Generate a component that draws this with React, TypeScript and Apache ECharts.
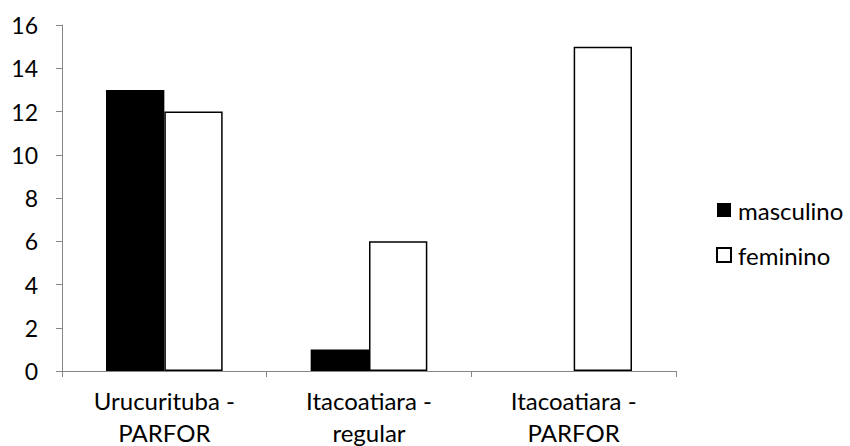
import React, { useEffect, useRef } from "react";
import * as echarts from "echarts";

const categories = ["Urucurituba -\nPARFOR", "Itacoatiara -\nregular", "Itacoatiara -\nPARFOR"];
const masculino = [13, 1, 0];
const feminino = [12, 6, 15];
const seriesNames = ["masculino", "feminino"];

const FONT = "Lato, 'Open Sans', sans-serif";

export default function App() {
  const ref = useRef<HTMLDivElement>(null);
  useEffect(() => {
    const chart = echarts.init(ref.current!, null, { renderer: "svg" });
    chart.setOption({
      animation: false,
      textStyle: { fontFamily: FONT },
      grid: { left: 62, right: 174, top: 25, bottom: 75, outerBoundsMode: "none", containLabel: false },
      legend: {
        orient: "vertical",
        left: 716,
        top: 198,
        padding: 0,
        itemWidth: 14,
        itemHeight: 14,
        itemGap: 21,
        icon: "rect",
        textStyle: { fontSize: 24, color: "#000", fontFamily: FONT, padding: [0, 0, 0, 2] },
        data: seriesNames,
      },
      xAxis: {
        type: "category",
        data: categories,
        axisLine: { lineStyle: { color: "#868686", width: 1 } },
        axisTick: { show: true, length: 6, lineStyle: { color: "#868686" }, alignWithLabel: false },
        axisLabel: { fontSize: 24, color: "#000", lineHeight: 32, margin: 13, fontFamily: FONT },
      },
      yAxis: {
        type: "value",
        min: 0,
        max: 16,
        interval: 2,
        axisLine: { show: true, lineStyle: { color: "#868686", width: 1 } },
        axisTick: { show: true, length: 6, lineStyle: { color: "#868686" } },
        splitLine: { show: false },
        axisLabel: { fontSize: 23, color: "#000", margin: 24, fontFamily: FONT },
      },
      series: [
        {
          name: seriesNames[0],
          type: "bar",
          data: masculino,
          barGap: "0%",
          barCategoryGap: "43%",
          itemStyle: { color: "#000", borderWidth: 0 },
        },
        {
          name: seriesNames[1],
          type: "bar",
          data: feminino,
          barGap: "0%",
          barCategoryGap: "43%",
          itemStyle: { color: "#fff", borderColor: "#000", borderWidth: 1.5 },
        },
      ],
    });
    return () => chart.dispose();
  }, []);
  return <div ref={ref} style={{ width: 850, height: 446, position: "absolute", left: 0, top: 0 }} />;
}
